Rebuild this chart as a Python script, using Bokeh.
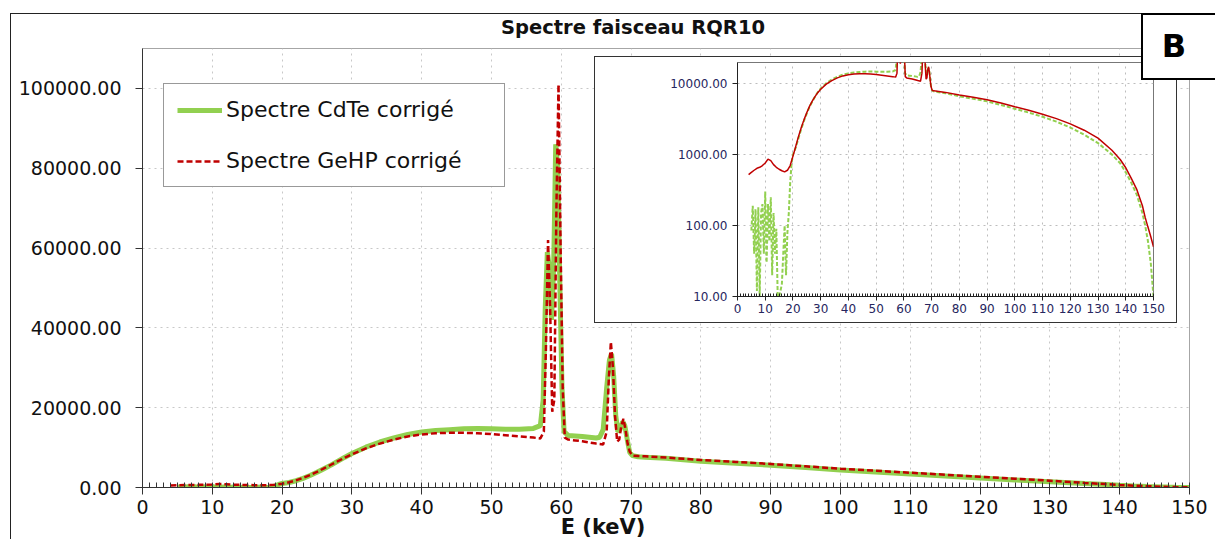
from bokeh.plotting import figure
from bokeh.models import (Range1d, SingleIntervalTicker, FixedTicker, NumeralTickFormatter,
                          Legend, LegendItem, Div)
from bokeh.layouts import column
from bokeh.embed import file_html
from bokeh.resources import INLINE

# ---------------- data ----------------
energy_cdte = [5, 5.5, 6, 6.5, 7, 7.5, 8, 8.5, 9, 9.5, 10, 10.5, 11, 11.5, 12, 12.5, 13, 13.5,
               14, 14.5, 15, 15.5, 16, 16.5, 17, 17.5, 18, 18.5, 19, 19.5, 20,
               21, 22, 23, 24, 25, 26, 27, 28, 29, 30, 32, 34, 36, 38, 40, 42, 44, 46, 48, 50,
               52, 54, 56, 57,
               57.4, 57.7, 58.0, 58.3, 58.6, 58.9, 59.2, 59.5, 59.8, 60.1, 60.4, 61, 62, 63, 64,
               65, 65.5, 66, 66.5, 66.9, 67.2, 67.5, 67.8, 68.1, 68.4, 68.8, 69.1, 69.5, 69.8, 70.2,
               71, 72, 75, 80, 85, 90, 95, 100, 105, 110, 115, 120, 125, 130, 135, 138, 140, 142,
               144, 146, 147, 148, 149, 150]
counts_cdte = [85, 190, 40, 170, 12, 180, 10, 150, 200, 40, 300, 30, 200, 60, 250, 20, 150, 40,
               90, 10, 10, 12, 15, 40, 100, 20, 80, 150, 400, 750, 1000,
               1250, 1700, 2300, 3000, 3800, 4700, 5600, 6600, 7600, 8500, 10100, 11400, 12400,
               13300, 13900, 14300, 14500, 14700, 14800, 14700, 14600, 14600, 14800, 15500,
               22000, 45000, 59000, 55000, 42000, 55000, 86000, 80000, 50000, 25000, 14000, 13000,
               12900, 12800, 12600, 12400, 12600, 14500, 25000, 32000, 33500, 28000, 18000, 14000,
               14500, 16500, 15500, 11500, 8800, 8000,
               7700, 7600, 7300, 6600, 6100, 5600, 5000, 4400, 3900, 3400, 2900, 2400, 1900, 1450,
               1000, 750, 560, 400, 270, 150, 100, 60, 30, 10]

energy_gehp = [4, 5, 6, 7, 8, 9, 10, 11, 12, 13, 14, 15, 16, 17, 18, 19, 20,
               21, 22, 23, 24, 25, 26, 27, 28, 29, 30, 32, 34, 36, 38, 40, 42, 44, 46, 48, 50,
               52, 54, 56, 57,
               57.5, 57.8, 58.1, 58.4, 58.7, 59.0, 59.3, 59.6, 59.9, 60.2, 60.5, 61, 62, 63, 64,
               65, 66, 66.5, 66.8, 67.1, 67.4, 67.7, 68.0, 68.3, 68.6, 68.9, 69.2, 69.5, 69.8, 70.2,
               71, 72, 75, 80, 85, 90, 95, 100, 105, 110, 115, 120, 125, 130, 135, 138, 140, 142,
               144, 146, 147, 148, 149, 150]
counts_gehp = [520, 560, 600, 640, 660, 700, 760, 860, 820, 720, 660, 620, 590, 570, 600, 700, 950,
               1300, 1800, 2400, 3100, 3900, 4800, 5700, 6600, 7500, 8300, 9800, 11000, 12000,
               12800, 13300, 13600, 13700, 13700, 13600, 13400, 13100, 12800, 12500, 12300,
               14000, 35000, 62000, 45000, 19000, 22000, 70000, 101000, 60000, 25000, 12500, 12000,
               11800, 11600, 11300, 11000, 10800, 14000, 27000, 36500, 30000, 18000, 11500, 12000,
               15500, 17200, 14500, 11000, 9000, 8000,
               7900, 7800, 7500, 6900, 6400, 5900, 5300, 4700, 4200, 3700, 3200, 2700, 2200, 1700,
               1150, 850, 650, 460, 320, 190, 130, 95, 70, 50]

title_text = "Spectre faisceau RQR10"
series_labels = ["Spectre CdTe corrigé", "Spectre GeHP corrigé"]
x_label_text = "E (keV)"
panel_letter = "B"
main_y_ticks = [0, 20000, 40000, 60000, 80000, 100000]
inset_y_ticks = [10, 100, 1000, 10000]

GREEN = "#92d050"
RED = "#c00000"
FONT = "DejaVu Sans"

# ---------------- main chart ----------------
p = figure(width=1212, height=536, x_range=Range1d(0, 150), y_range=Range1d(0, 110000),
           output_backend="svg", toolbar_location=None, title=None,
           min_border_left=142, min_border_right=23, min_border_top=48, min_border_bottom=49)
p.background_fill_color = "white"
p.border_fill_color = "white"
p.outline_line_color = "#a6a6a6"

g_main = p.line(energy_cdte, counts_cdte, line_color=GREEN, line_width=5)
r_main = p.line(energy_gehp, counts_gehp, line_color=RED, line_width=2.5, line_dash="6 3")

p.xaxis.ticker = SingleIntervalTicker(interval=10, num_minor_ticks=10)
p.yaxis.ticker = FixedTicker(ticks=main_y_ticks)
p.yaxis.formatter = NumeralTickFormatter(format="0.00")
for ax in (p.xaxis[0], p.yaxis[0]):
    ax.major_label_text_font = FONT
    ax.major_label_text_font_size = "19px"
    ax.major_label_text_color = "#111111"
    ax.axis_line_color = "#333333"
    ax.major_tick_line_color = "#333333"
    ax.minor_tick_line_color = "#333333"
    ax.major_tick_in = 0
p.xaxis.major_tick_out = 7
p.xaxis.minor_tick_in = 5
p.xaxis.minor_tick_out = 0
p.xaxis.major_label_standoff = 5
p.yaxis.major_tick_out = 7
p.yaxis.minor_tick_line_color = None
p.yaxis.major_label_standoff = 14

for grid in (p.xgrid[0], p.ygrid[0]):
    grid.grid_line_color = "#c8c8c8"
    grid.grid_line_dash = "dotted"
    grid.grid_line_width = 1

legend = Legend(items=[LegendItem(label=series_labels[0], renderers=[g_main]),
                       LegendItem(label=series_labels[1], renderers=[r_main])],
                location=(21, 300), padding=13, spacing=26, glyph_width=45, glyph_height=24,
                label_height=24, label_width=265, label_standoff=4, margin=0,
                label_text_font=FONT, label_text_font_size="22px", label_text_color="#111111",
                border_line_color="#333333", border_line_width=1,
                background_fill_color="white", background_fill_alpha=1)
p.add_layout(legend)

# ---------------- inset (log scale) ----------------
ins = figure(width=581, height=265, x_range=Range1d(0, 150), y_range=Range1d(10, 19770),
             y_axis_type="log", output_backend="svg", toolbar_location=None, title=None,
             min_border_left=77, min_border_right=23, min_border_top=5, min_border_bottom=26,
             styles={"position": "absolute", "left": "595px", "top": "57px",
                     "outline": "1px solid #333333"})
ins.background_fill_color = "white"
ins.border_fill_color = "white"
ins.outline_line_color = "#777777"

ins.line(energy_cdte, counts_cdte, line_color=GREEN, line_width=2, line_dash="4 2")
ins.line(energy_gehp, counts_gehp, line_color=RED, line_width=1.5)

ins.xaxis.ticker = SingleIntervalTicker(interval=10, num_minor_ticks=10)
ins.yaxis.ticker = FixedTicker(ticks=inset_y_ticks, minor_ticks=[])
ins.yaxis.formatter = NumeralTickFormatter(format="0.00")
for ax in (ins.xaxis[0], ins.yaxis[0]):
    ax.major_label_text_font = FONT
    ax.major_label_text_font_size = "12px"
    ax.major_label_text_color = "#26265e"
    ax.axis_line_color = "#222222"
    ax.major_tick_line_color = "#222222"
    ax.minor_tick_line_color = "#222222"
    ax.major_tick_in = 0
ins.xaxis.major_tick_out = 4
ins.xaxis.minor_tick_in = 3
ins.xaxis.minor_tick_out = 0
ins.xaxis.major_label_standoff = 3
ins.yaxis.major_tick_out = 5
ins.yaxis.minor_tick_line_color = None
ins.yaxis.major_label_standoff = 5
for grid in (ins.xgrid[0], ins.ygrid[0]):
    grid.grid_line_color = "#bdbdbd"
    grid.grid_line_dash = "dotted"

# ---------------- texts and decorations ----------------
frame_div = Div(text="", width=1202, height=526, margin=0,
                styles={"position": "absolute", "left": "10px", "top": "13px",
                        "border-left": "1px solid #222222", "border-top": "1px solid #222222",
                        "pointer-events": "none"})
title_div = Div(text=title_text, width=400, height=24, margin=0,
                styles={"position": "absolute", "left": "433px", "top": "16px",
                        "font-family": FONT, "font-weight": "bold", "font-size": "19.5px",
                        "text-align": "center", "line-height": "24px", "color": "#111111"})
xlabel_div = Div(text=x_label_text, width=200, height=22, margin=0,
                 styles={"position": "absolute", "left": "503px", "top": "516px",
                         "font-family": FONT, "font-weight": "bold", "font-size": "21px",
                         "text-align": "center", "line-height": "22px", "color": "#111111"})
letter_div = Div(text=panel_letter, width=74, height=67, margin=0,
                 styles={"position": "absolute", "left": "1141px", "top": "13px",
                         "box-sizing": "border-box", "border": "2px solid #000000",
                         "border-right": "none", "padding-right": "10px",
                         "background": "white",
                         "font-family": FONT, "font-weight": "bold",
                         "font-size": "32px", "text-align": "center", "line-height": "63px",
                         "color": "#000000"})

layout = column(p, ins, frame_div, title_div, xlabel_div, letter_div, width=1212, height=536,
                styles={"position": "relative"})

open("out.html", "w").write(file_html(layout, INLINE))
